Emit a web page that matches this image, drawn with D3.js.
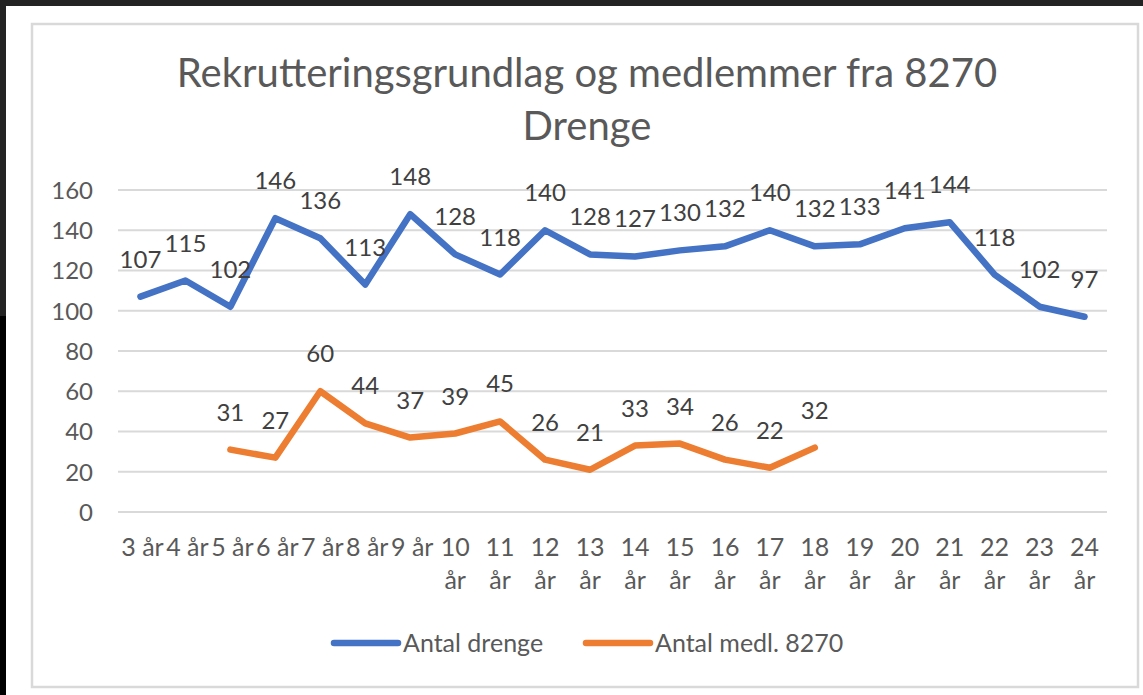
<!DOCTYPE html>
<html lang="da">
<head>
<meta charset="UTF-8">
<title>Rekrutteringsgrundlag og medlemmer fra 8270</title>
<script src="https://d3js.org/d3.v7.min.js"></script>
<style>
  html, body { margin: 0; padding: 0; background: #fff; }
  svg { display: block; }
  text { font-family: Lato, "Noto Sans", sans-serif; }
</style>
</head>
<body>
<div id="chart"></div>
<script>
// data
const categories = ["3 år","4 år","5 år","6 år","7 år","8 år","9 år","10 år","11 år","12 år","13 år",
  "14 år","15 år","16 år","17 år","18 år","19 år","20 år","21 år","22 år","23 år","24 år"];
const drenge = [107,115,102,146,136,113,148,128,118,140,128,127,130,132,140,132,133,141,144,118,102,97];
const medlemmer = [null,null,31,27,60,44,37,39,45,26,21,33,34,26,22,32,null,null,null,null,null,null];
const yTicks = [0,20,40,60,80,100,120,140,160];
const seriesNames = ["Antal drenge", "Antal medl. 8270"];
const colors = ["#4472C4", "#ED7D31"];

const width = 1143, height = 695;
const svg = d3.select("#chart").append("svg")
  .attr("width", width).attr("height", height);

// screenshot surroundings
svg.append("rect").attr("width", width).attr("height", height).attr("fill", "#fff");
svg.append("rect").attr("x", 0).attr("y", 0).attr("width", width).attr("height", 6).attr("fill", "#232323");
svg.append("rect").attr("x", 0).attr("y", 0).attr("width", 6).attr("height", 316).attr("fill", "#232323");
svg.append("rect").attr("x", 0).attr("y", 316).attr("width", 6).attr("height", height - 316).attr("fill", "#000");

// chart frame
svg.append("rect")
  .attr("x", 32).attr("y", 24).attr("width", 1106).attr("height", 663)
  .attr("fill", "#fff").attr("stroke", "#d9d9d9").attr("stroke-width", 2.5);

// title
const title = svg.append("text")
  .attr("text-anchor", "middle")
  .attr("fill", "#595959")
  .style("font-size", "40px");
title.append("tspan").attr("x", 587).attr("y", 87).text("Rekrutteringsgrundlag og medlemmer fra 8270");
title.append("tspan").attr("x", 587).attr("y", 140).text("Drenge");

const x = d3.scaleBand().domain(categories).range([118, 1107]).padding(0);
const y = d3.scaleLinear().domain([0, 160]).range([512, 190]);
const cx = d => x(d) + x.bandwidth() / 2;

// gridlines
svg.append("g").selectAll("line").data(yTicks).join("line")
  .attr("x1", 118).attr("x2", 1107)
  .attr("y1", d => y(d)).attr("y2", d => y(d))
  .attr("stroke", "#d9d9d9").attr("stroke-width", 2);

// y axis labels
const yAxis = d3.axisLeft(y).tickValues(yTicks).tickSize(0).tickPadding(0);
svg.append("g").attr("transform", "translate(93,0)").call(yAxis)
  .call(g => g.select(".domain").remove())
  .call(g => g.selectAll("text")
    .attr("fill", "#595959").style("font-size", "24px")
    .attr("dy", "0.35em")
    .style("font-family", "Lato, 'Noto Sans', sans-serif"));

// x axis labels (wrapped like the original)
const xl = svg.append("g").selectAll("text").data(categories).join("text")
  .attr("text-anchor", "middle")
  .attr("fill", "#595959")
  .style("font-size", "25px");
xl.each(function(d, i) {
  const t = d3.select(this);
  const px = cx(d);
  if (i < 7) {
    t.append("tspan").attr("x", px + 2).attr("y", 556).text(d);
  } else {
    const parts = d.split(" ");
    t.append("tspan").attr("x", px).attr("y", 556).text(parts[0]);
    t.append("tspan").attr("x", px).attr("y", 589).text(parts[1]);
  }
});

// lines
const series = [drenge, medlemmer];
const line = d3.line()
  .defined(d => d.v != null)
  .x(d => cx(d.c))
  .y(d => y(d.v));

series.forEach((vals, s) => {
  const pts = categories.map((c, i) => ({ c: c, v: vals[i] }));
  svg.append("path")
    .datum(pts)
    .attr("d", line)
    .attr("fill", "none")
    .attr("stroke", colors[s])
    .attr("stroke-width", 6.5)
    .attr("stroke-linejoin", "round")
    .attr("stroke-linecap", "round");

  svg.append("g").selectAll("text")
    .data(pts.filter(d => d.v != null)).join("text")
    .attr("x", d => cx(d.c))
    .attr("y", d => y(d.v) - 29)
    .attr("text-anchor", "middle")
    .attr("fill", "#404040")
    .style("font-size", "24px")
    .text(d => d.v);
});

// legend
const legendX = [334, 586];
const leg = svg.append("g").selectAll("g").data(seriesNames).join("g")
  .attr("transform", (d, i) => `translate(${legendX[i]},643)`);
leg.append("line")
  .attr("x1", 0).attr("x2", 64)
  .attr("stroke", (d, i) => colors[i])
  .attr("stroke-width", 6.5)
  .attr("stroke-linecap", "round");
leg.append("text")
  .attr("x", 69).attr("dy", "0.35em")
  .attr("fill", "#595959")
  .style("font-size", "25px")
  .text(d => d);
</script>
</body>
</html>
